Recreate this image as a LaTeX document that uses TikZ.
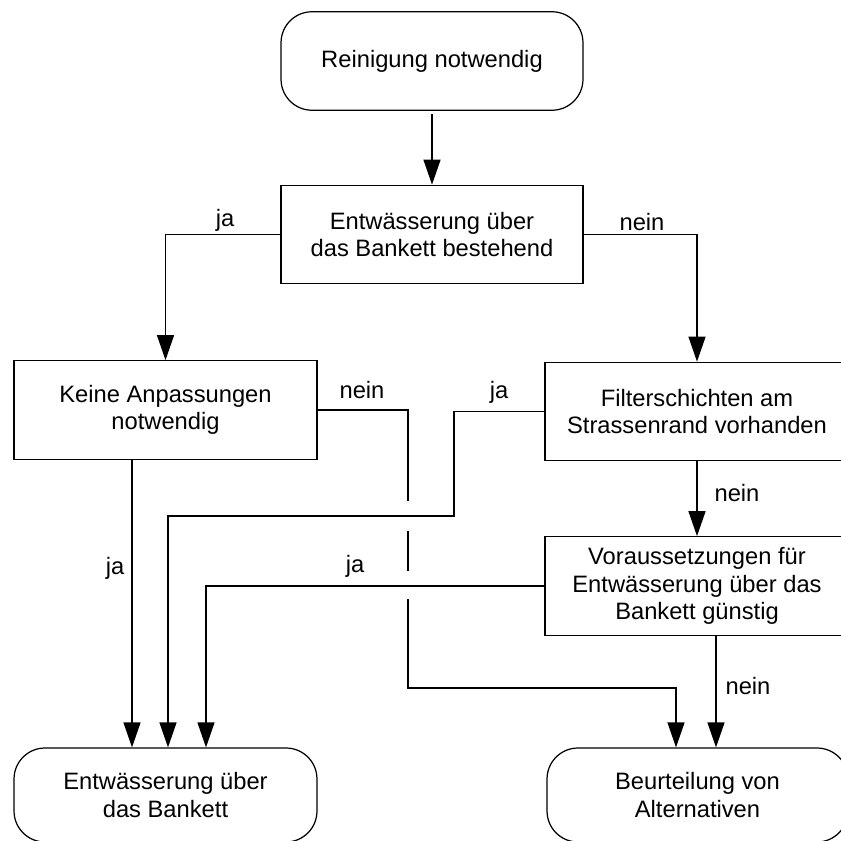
\documentclass[tikz,border=0pt]{standalone}
\usepackage{fontspec}
\setmainfont{Liberation Sans}
\usetikzlibrary{arrows.meta,calc}

\begin{document}
\begin{tikzpicture}[x=0.02cm,y=-0.02cm,
	every node/.style={font=\fontsize{13.5}{15.5}\selectfont},
	decision/.style={draw, line width=0.7pt, align=center, minimum height=1.97cm, inner sep=0pt},
	terminal/.style={decision, rounded corners=0.62cm},
	flow/.style={line width=0.7pt, -{Triangle[length=5mm,width=3.4mm]}},
	line/.style={line width=0.7pt}]
	%\draw[help lines, thick] (0,0) grid[step=50] (840,841);
	\useasboundingbox (0,0) rectangle (840,841);
	\node[terminal, minimum width=6.04cm] (reinigung) at (432,61) {Reinigung notwendig};
	\node[decision, minimum width=6.04cm] (bestehend) at (432,234.5) {Entwässerung über\\das Bankett bestehend};
	\node[decision, minimum width=6.06cm] (keine) at (165.5,410) {Keine Anpassungen\\notwendig};
	\node[decision, minimum width=6.08cm] (filter) at (697,411.5) {Filterschichten am\\Strassenrand vorhanden};
	\node[decision, minimum width=6.08cm] (voraus) at (697,586) {Voraussetzungen für\\Entwässerung über das\\Bankett günstig};
	\node[terminal, minimum width=6.06cm, minimum height=1.88cm] (bankett) at (165.5,795) {Entwässerung über\\das Bankett};
	\node[terminal, minimum width=6.02cm, minimum height=1.88cm] (alternativ) at (697.5,795) {Beurteilung von\\Alternativen};
	\coordinate (fj) at (454,516);
	\coordinate (kn) at (408,410);
	\coordinate (kb) at (408,688);
	\coordinate (vn) at ([xshift=3.8mm]voraus.south);
	\draw[flow, shorten <=0.6mm] (reinigung) -- (bestehend);
	\draw[flow] (bestehend) -| (keine);
	\draw[flow] (bestehend) -| (filter);
	\draw[flow] ([xshift=-6.7mm]keine.south) -- ([xshift=-6.7mm]bankett.north);
	\draw[line] (keine.east) -- (kn) -- ($(kn |- fj)+(0,-15)$);
	\draw[line] ($(kn |- fj)+(0,15)$) -- ($(kn |- voraus.west)+(0,-15)$);
	\draw[flow] ($(kn |- voraus.west)+(0,13)$) -- (kb) -| ([xshift=-4.3mm]alternativ.north);
	\draw[flow] (filter.west) -| (fj) -| ([xshift=0.5mm]bankett.north);
	\draw[flow] (filter) -- (voraus);
	\draw[flow] (voraus.west) -| ([xshift=8.1mm]bankett.north);
	\draw[flow] (vn) -- (vn |- alternativ.north);
	\node (ja1) at (225,220) {ja};
	\node (nein1) at (642,222) {nein};
	\node (ja2) at (115,568) {ja};
	\node (nein2) at (362,390) {nein};
	\node (ja3) at (499,392) {ja};
	\node (nein3) at (737,493) {nein};
	\node (ja4) at (355,566) {ja};
	\node (nein4) at (748,686) {nein};
\end{tikzpicture}
\end{document}
